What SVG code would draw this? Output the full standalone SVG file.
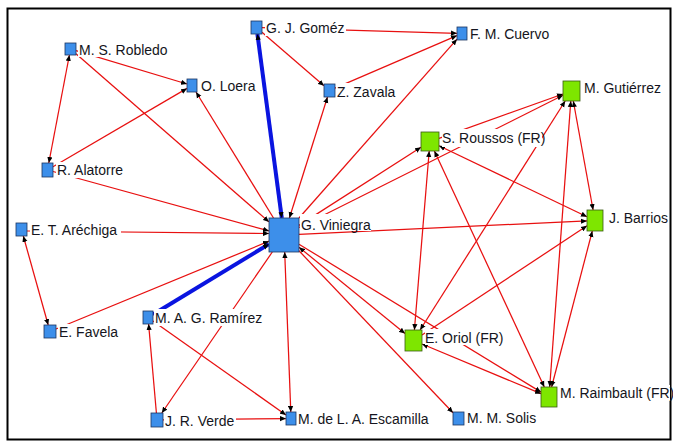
<svg xmlns="http://www.w3.org/2000/svg" width="673" height="441" viewBox="0 0 673 441">
<defs>
<marker id="ah" viewBox="0 0 6 6" refX="6" refY="3" markerWidth="6" markerHeight="6" markerUnits="userSpaceOnUse" orient="auto-start-reverse">
<path d="M0,0.4 L6,3 L0,5.6 z" fill="#000"/>
</marker>
</defs>
<style>
.e{stroke:#e81010;stroke-width:1.25;fill:none}
.eb{stroke:#0a14e0;stroke-width:4;fill:none}
.one{marker-end:url(#ah)}
.two{marker-start:url(#ah);marker-end:url(#ah)}
.nb{fill:#3d8fea;stroke:#1d3560;stroke-width:0.8}
.ng{fill:#7ee600;stroke:#3b5a12;stroke-width:0.8}
.bg{fill:#fff}
.lbl{font-family:"Liberation Sans",Arial,sans-serif;font-size:14px;fill:#151520}
</style>
<rect x="0" y="0" width="673" height="441" fill="#fff"/>
<rect x="7.5" y="8.5" width="663" height="431" fill="none" stroke="#000" stroke-width="2"/>
<g id="edges">
<line class="eb two" x1="257.4" y1="34" x2="281.8" y2="218"/>
<line class="eb one" x1="153" y1="314.5" x2="269" y2="244.1"/>
<line class="e one" x1="76" y1="53.8" x2="269" y2="221.9"/>
<line class="e one" x1="273.5" y1="218" x2="196" y2="92"/>
<line class="e two" x1="289.4" y1="218" x2="327.5" y2="97"/>
<line class="e one" x1="53" y1="171.5" x2="269" y2="230.9"/>
<line class="e one" x1="27" y1="231" x2="269" y2="233.5"/>
<line class="e one" x1="56" y1="329" x2="269" y2="241.2"/>
<line class="e one" x1="272.3" y1="252" x2="161.8" y2="413"/>
<line class="e two" x1="284.7" y1="252" x2="290.8" y2="412"/>
<line class="e one" x1="299" y1="250.8" x2="453" y2="412.7"/>
<line class="e two" x1="299" y1="247.2" x2="405" y2="333.6"/>
<line class="e one" x1="299" y1="244.2" x2="541" y2="392.1"/>
<line class="e one" x1="299" y1="234.3" x2="587" y2="220.9"/>
<line class="e one" x1="299" y1="225.4" x2="421" y2="147.3"/>
<line class="e one" x1="299" y1="227.5" x2="563" y2="95.3"/>
<line class="e one" x1="299" y1="218" x2="457" y2="39.2"/>
<line class="e one" x1="76" y1="50.7" x2="187" y2="84"/>
<line class="e one" x1="53" y1="166.8" x2="187" y2="88.4"/>
<line class="e two" x1="69.4" y1="55" x2="48.8" y2="163"/>
<line class="e one" x1="262" y1="32.2" x2="324" y2="85.8"/>
<line class="e one" x1="262" y1="27.7" x2="457" y2="33.3"/>
<line class="e one" x1="335" y1="88.1" x2="457" y2="35.6"/>
<line class="e two" x1="23.3" y1="236" x2="48.2" y2="325"/>
<line class="e one" x1="156.4" y1="413" x2="148.6" y2="324"/>
<line class="e one" x1="153" y1="321" x2="286" y2="415"/>
<line class="e one" x1="163" y1="419.9" x2="286" y2="418.6"/>
<line class="e one" x1="439" y1="138.3" x2="563" y2="94"/>
<line class="e two" x1="439" y1="145.8" x2="587" y2="216.7"/>
<line class="e two" x1="429.2" y1="151" x2="414.4" y2="330"/>
<line class="e two" x1="434.4" y1="151" x2="544.3" y2="387"/>
<line class="e two" x1="565.2" y1="101" x2="420.1" y2="330"/>
<line class="e two" x1="573.3" y1="101" x2="593.1" y2="210"/>
<line class="e two" x1="570.8" y1="101" x2="549.7" y2="387"/>
<line class="e two" x1="592.3" y1="231" x2="551.6" y2="387"/>
<line class="e one" x1="422" y1="334.9" x2="587" y2="225.8"/>
<line class="e two" x1="422" y1="344" x2="541" y2="393.7"/>
</g>
<g id="n-gomez"><rect class="nb" x="251" y="21" width="11" height="13"/><rect class="bg" x="265" y="20" width="81" height="16"/><text class="lbl" transform="translate(266 33) scale(1 1.1)">G. J. Goméz</text></g>
<g id="n-robledo"><rect class="nb" x="65" y="43" width="11" height="12"/><rect class="bg" x="78" y="42" width="90" height="15"/><text class="lbl" transform="translate(79 55) scale(1 1.1)">M. S. Robledo</text></g>
<g id="n-loera"><rect class="nb" x="187" y="79" width="10" height="13"/><rect class="bg" x="200" y="78" width="56" height="16"/><text class="lbl" transform="translate(201 91) scale(1 1.1)">O. Loera</text></g>
<g id="n-zavala"><rect class="nb" x="324" y="84" width="11" height="13"/><rect class="bg" x="336" y="83" width="60" height="17"/><text class="lbl" transform="translate(337 97) scale(1 1.1)">Z. Zavala</text></g>
<g id="n-alatorre"><rect class="nb" x="42" y="163" width="11" height="14"/><rect class="bg" x="56" y="162" width="68" height="16"/><text class="lbl" transform="translate(57 175) scale(1 1.1)">R. Alatorre</text></g>
<g id="n-cuervo"><rect class="nb" x="457" y="27" width="10" height="13"/><rect class="bg" x="469" y="26" width="83" height="16"/><text class="lbl" transform="translate(470 39) scale(1 1.1)">F. M. Cuervo</text></g>
<g id="n-gutierrez"><rect class="ng" x="563" y="81" width="17" height="20"/><rect class="bg" x="583" y="80" width="79" height="16"/><text class="lbl" transform="translate(584 93) scale(1 1.1)">M. Gutiérrez</text></g>
<g id="n-roussos"><rect class="ng" x="421" y="132" width="18" height="19"/><rect class="bg" x="442" y="129" width="100" height="18"/><text class="lbl" transform="translate(442 143) scale(1 1.1)">S. Roussos (FR)</text></g>
<g id="n-barrios"><rect class="ng" x="587" y="210" width="16" height="21"/><rect class="bg" x="608" y="210" width="61" height="16"/><text class="lbl" transform="translate(609 223) scale(1 1.1)">J. Barrios</text></g>
<g id="n-viniegra"><rect class="nb" x="269" y="218" width="30" height="34"/><rect class="bg" x="300" y="214" width="71" height="17"/><text class="lbl" transform="translate(301 230) scale(1 1.1)">G. Viniegra</text></g>
<g id="n-arechiga"><rect class="nb" x="16" y="223" width="11" height="13"/><rect class="bg" x="30" y="222" width="91" height="16"/><text class="lbl" transform="translate(31 235) scale(1 1.1)">E. T. Aréchiga</text></g>
<g id="n-favela"><rect class="nb" x="44" y="325" width="12" height="13"/><rect class="bg" x="58" y="324" width="60" height="16"/><text class="lbl" transform="translate(59 337) scale(1 1.1)">E. Favela</text></g>
<g id="n-ramirez"><rect class="nb" x="143" y="311" width="10" height="13"/><rect class="bg" x="154" y="309" width="110" height="17"/><text class="lbl" transform="translate(155 323) scale(1 1.1)">M. A. G. Ramírez</text></g>
<g id="n-verde"><rect class="nb" x="151" y="413" width="12" height="14"/><rect class="bg" x="164" y="412" width="72" height="17"/><text class="lbl" transform="translate(165 426) scale(1 1.1)">J. R. Verde</text></g>
<g id="n-escamilla"><rect class="nb" x="286" y="412" width="10" height="13"/><rect class="bg" x="297" y="410" width="140" height="17"/><text class="lbl" transform="translate(298 424) scale(1 1.1)">M. de L. A. Escamilla</text></g>
<g id="n-solis"><rect class="nb" x="453" y="412" width="11" height="13"/><rect class="bg" x="466" y="410" width="71" height="16"/><text class="lbl" transform="translate(467 423) scale(1 1.1)">M. M. Solis</text></g>
<g id="n-oriol"><rect class="ng" x="405" y="330" width="17" height="21"/><rect class="bg" x="425" y="329" width="80" height="16"/><text class="lbl" transform="translate(425 343) scale(1 1.1)">E. Oriol (FR)</text></g>
<g id="n-raimbault"><rect class="ng" x="541" y="387" width="16" height="20"/><rect class="bg" x="559" y="385" width="111" height="16"/><text class="lbl" transform="translate(560 398) scale(1 1.1)">M. Raimbault (FR)</text></g>
</svg>
